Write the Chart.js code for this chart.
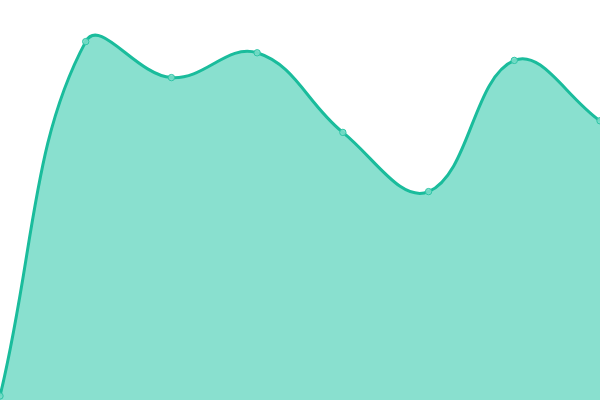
<!DOCTYPE html>
<html>
<head>
<meta charset="utf-8">
<script src="https://cdn.jsdelivr.net/npm/chart.js@4"></script>
<style>
html,body{margin:0;padding:0;background:#fff;}
#wrap{width:600px;height:400px;}
</style>
</head>
<body>
<div id="wrap"><canvas id="c" width="600" height="400"></canvas></div>
<script>
const labels = ["1", "2", "3", "4", "5", "6", "7", "8"];
const values = [1, 89.6, 80.6, 86.8, 66.9, 52.1, 84.9, 69.8];

new Chart(document.getElementById('c'), {
  type: 'line',
  data: {
    labels: labels,
    datasets: [{
      data: values,
      borderColor: '#1abc9c',
      backgroundColor: 'rgba(20,193,160,0.5)',
      fill: true,
      borderWidth: 3,
      tension: 0.4,
      pointRadius: 3.2,
      pointBorderWidth: 1,
      pointBackgroundColor: 'rgba(120,220,200,0.9)',
      pointBorderColor: '#2fc4a6'
    }]
  },
  options: {
    responsive: false,
    animation: false,
    layout: { padding: 0, autoPadding: false },
    plugins: { legend: { display: false }, tooltip: { enabled: false } },
    scales: {
      x: { display: false, offset: false },
      y: { display: false, min: 0, max: 100 }
    }
  }
});
</script>
</body>
</html>
